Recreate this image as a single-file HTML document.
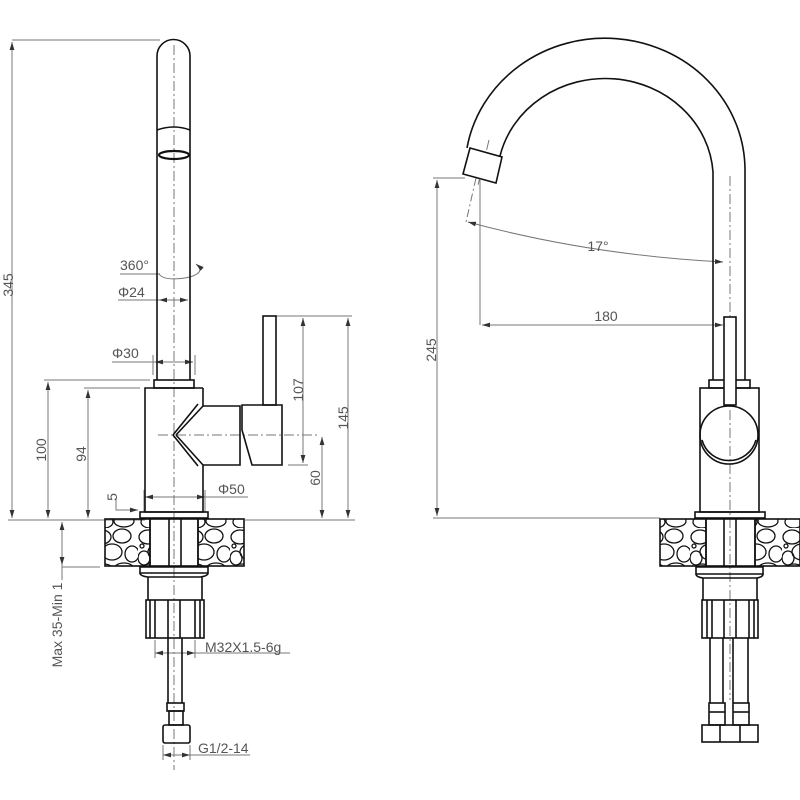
<!DOCTYPE html>
<html><head><meta charset="utf-8"><style>
html,body{margin:0;padding:0;background:#fff}
svg{display:block}
text{font-family:"Liberation Sans",sans-serif;fill:#555;font-size:14px}
</style></head><body>
<svg width="800" height="800" viewBox="0 0 800 800" xmlns="http://www.w3.org/2000/svg">
<defs>
<pattern id="stone" width="46" height="48" patternUnits="userSpaceOnUse">
<g fill="none" stroke="#111" stroke-width="1.3">
<ellipse cx="10" cy="9" rx="9" ry="7"/><ellipse cx="30" cy="8" rx="9" ry="7"/>
<ellipse cx="20" cy="24" rx="10" ry="8"/><ellipse cx="40" cy="26" rx="7" ry="8"/>
<ellipse cx="6" cy="30" rx="6" ry="7"/><ellipse cx="12" cy="42" rx="9" ry="6"/>
<ellipse cx="32" cy="41" rx="10" ry="6"/><circle cx="4" cy="18" r="2"/>
</g></pattern>
<marker id="a" viewBox="0 0 10 6" refX="10" refY="3" markerWidth="8" markerHeight="5" orient="auto-start-reverse"><path d="M0,0L10,3L0,6z" fill="#333"/></marker>
</defs>
<g stroke="#777" stroke-width="1" fill="none">
<line x1="12" y1="40" x2="160" y2="40"/>
<line x1="12" y1="42" x2="12" y2="518" marker-start="url(#a)" marker-end="url(#a)"/>
<line x1="8" y1="520" x2="145" y2="520"/><line x1="245" y1="520" x2="355" y2="520"/>
<line x1="44" y1="380" x2="150" y2="380"/><line x1="48" y1="382" x2="48" y2="518" marker-start="url(#a)" marker-end="url(#a)"/>
<line x1="84" y1="388" x2="140" y2="388"/><line x1="88" y1="390" x2="88" y2="518" marker-start="url(#a)" marker-end="url(#a)"/>
<line x1="276" y1="316" x2="352" y2="316"/><line x1="288" y1="465" x2="308" y2="465"/>
<line x1="303" y1="318" x2="303" y2="463" marker-start="url(#a)" marker-end="url(#a)"/>
<line x1="348" y1="318" x2="348" y2="518" marker-start="url(#a)" marker-end="url(#a)"/>
<line x1="322" y1="437" x2="322" y2="518" marker-start="url(#a)" marker-end="url(#a)"/>
<line x1="155" y1="362" x2="193" y2="362" marker-start="url(#a)" marker-end="url(#a)"/><line x1="112" y1="362" x2="155" y2="362"/>
<line x1="153" y1="355" x2="153" y2="375"/><line x1="195" y1="355" x2="195" y2="375"/>
<line x1="159" y1="300" x2="188" y2="300" marker-start="url(#a)" marker-end="url(#a)"/><line x1="118" y1="300" x2="159" y2="300"/>
<line x1="120" y1="274" x2="160" y2="274"/>
<path d="M159,274 Q165,282 190,277 Q206,272 196,264" marker-end="url(#a)"/>
<line x1="145" y1="497" x2="205" y2="497" marker-start="url(#a)" marker-end="url(#a)"/><line x1="205" y1="497" x2="248" y2="497"/>
<line x1="144" y1="490" x2="144" y2="512"/><line x1="205" y1="490" x2="205" y2="512"/>
<path d="M116,498 L116,510 L138,510" marker-end="url(#a)"/>
<line x1="62" y1="522" x2="62" y2="565" marker-start="url(#a)" marker-end="url(#a)"/>
<line x1="62" y1="567" x2="100" y2="567"/><line x1="62" y1="565" x2="62" y2="580"/>
<line x1="155" y1="640" x2="155" y2="658"/><line x1="195" y1="640" x2="195" y2="658"/>
<line x1="155" y1="653" x2="195" y2="653" marker-start="url(#a)" marker-end="url(#a)"/><line x1="195" y1="653" x2="290" y2="653"/>
<line x1="163" y1="745" x2="163" y2="760"/><line x1="190" y1="745" x2="190" y2="760"/>
<line x1="163" y1="755" x2="190" y2="755" marker-start="url(#a)" marker-end="url(#a)"/><line x1="190" y1="755" x2="250" y2="755"/>
<line x1="433" y1="178" x2="465" y2="178"/>
<line x1="437" y1="180" x2="437" y2="516" marker-start="url(#a)" marker-end="url(#a)"/>
<line x1="433" y1="518" x2="660" y2="518"/>
<line x1="480" y1="180" x2="480" y2="325"/>
<line x1="482" y1="325" x2="723" y2="325" marker-start="url(#a)" marker-end="url(#a)"/>
<line x1="476" y1="178" x2="466" y2="222" stroke-dasharray="8,3,2,3"/>
<path d="M468,222 Q590,255 723,262" marker-start="url(#a)" marker-end="url(#a)"/>
</g>
<g stroke="#777" stroke-width="1" stroke-dasharray="10,3,2,3" fill="none">
<line x1="174" y1="45" x2="174" y2="770"/>
<line x1="158" y1="435" x2="320" y2="435"/>
<line x1="730" y1="176" x2="730" y2="700"/>
<line x1="489" y1="140" x2="478" y2="185"/>
</g>
<g stroke="#111" stroke-width="1.6" fill="none">
<path d="M157,380 L157,56 A16.5,16.5 0 0 1 190,56 L190,380"/>
<path d="M157,130 Q174,124 190,130"/>
<ellipse cx="174" cy="155" rx="15" ry="4" stroke-width="2.2"/>
<rect x="154" y="380" width="40" height="8"/>
<path d="M203,388 L145,388 L145,512 L203,512 L203,465 M203,388 L203,406"/>
<path d="M203,406 L240,406 L240,465 L203,465"/>
<path d="M173,435 L198,404 M173,435 L198,466 M176,435 L203,406 M176,435 L203,465"/>
<path d="M242,405 L282,405 L282,465 L252,465 L242,430 Z"/>
<rect x="263" y="316" width="13" height="89"/>
<rect x="140" y="512" width="68" height="6"/>
<rect x="105" y="519" width="45" height="47" fill="url(#stone)"/>
<rect x="198" y="519" width="46" height="47" fill="url(#stone)"/>
<rect x="150" y="519" width="48" height="47"/>
<line x1="169" y1="519" x2="169" y2="566"/><line x1="181" y1="519" x2="181" y2="566"/>
<path d="M140,567 L208,567 L208,573 L140,573 Z"/>
<path d="M140,573 Q140,576 148,577 L200,577 Q208,576 208,573"/>
<path d="M148,577 L148,600 M202,577 L202,600"/>
<rect x="146" y="600" width="58" height="38"/>
<path d="M150,600 L150,638 M155,600 L155,638 M168,600 L168,638 M180,600 L180,638 M195,600 L195,638 M200,600 L200,638"/>
<path d="M168,638 L168,703 M182,638 L182,703"/>
<rect x="167" y="703" width="17" height="8"/><rect x="169" y="711" width="14" height="14"/>
<rect x="163" y="725" width="27" height="18" rx="2"/>
<path d="M745,380 L745,170 A140,132 0 0 0 467,148"/>
<path d="M713,380 L713,172 A108,100 0 0 0 500,156"/>
<path d="M470,148 L502,157 L496,183 L463,174 Z" fill="#fff"/>
<rect x="709" y="380" width="41" height="8"/>
<rect x="700" y="388" width="59" height="124"/>
<circle cx="729" cy="435" r="29"/>
<path d="M702,440 A28,28 0 0 0 756,440"/>
<rect x="724" y="317" width="12" height="88" fill="#fff"/>
<rect x="695" y="512" width="70" height="6"/>
<rect x="660" y="519" width="46" height="47" fill="url(#stone)"/>
<rect x="755" y="519" width="45" height="47" fill="url(#stone)"/>
<rect x="706" y="519" width="49" height="47"/>
<line x1="724" y1="519" x2="724" y2="566"/><line x1="736" y1="519" x2="736" y2="566"/>
<path d="M696,567 L763,567 L763,574 L696,574 Z"/>
<path d="M696,574 Q696,577 703,578 L757,578 Q763,577 763,574"/>
<path d="M703,578 L703,600 M757,578 L757,600"/>
<rect x="702" y="600" width="56" height="38"/>
<path d="M707,600 L707,638 M712,600 L712,638 M724,600 L724,638 M736,600 L736,638 M749,600 L749,638 M754,600 L754,638"/>
<path d="M710,638 L710,703 M723,638 L723,703 M733,638 L733,703 M748,638 L748,703"/>
<rect x="709" y="703" width="16" height="22"/><rect x="733" y="703" width="16" height="22"/>
<line x1="709" y1="712" x2="725" y2="712"/><line x1="733" y1="712" x2="749" y2="712"/>
<rect x="702" y="725" width="56" height="17"/>
<line x1="720" y1="725" x2="720" y2="742"/><line x1="740" y1="725" x2="740" y2="742"/>
</g>
<text transform="translate(13,285) rotate(-90)" text-anchor="middle">345</text>
<text transform="translate(46,450) rotate(-90)" text-anchor="middle">100</text>
<text transform="translate(86,454) rotate(-90)" text-anchor="middle">94</text>
<text transform="translate(303,390) rotate(-90)" text-anchor="middle">107</text>
<text transform="translate(348,418) rotate(-90)" text-anchor="middle">145</text>
<text transform="translate(320,478) rotate(-90)" text-anchor="middle">60</text>
<text transform="translate(117,497) rotate(-90)" text-anchor="middle">5</text>
<text transform="translate(62,625) rotate(-90)" text-anchor="middle">Max 35-Min 1</text>
<text x="112" y="358">Φ30</text>
<text x="118" y="297">Φ24</text>
<text x="120" y="270">360°</text>
<text x="218" y="494">Φ50</text>
<text x="205" y="652">M32X1.5-6g</text>
<text x="198" y="753">G1/2-14</text>
<text transform="translate(436,350) rotate(-90)" text-anchor="middle">245</text>
<text x="606" y="321" text-anchor="middle">180</text>
<text x="598" y="251" text-anchor="middle">17°</text>
</svg>
</body></html>
